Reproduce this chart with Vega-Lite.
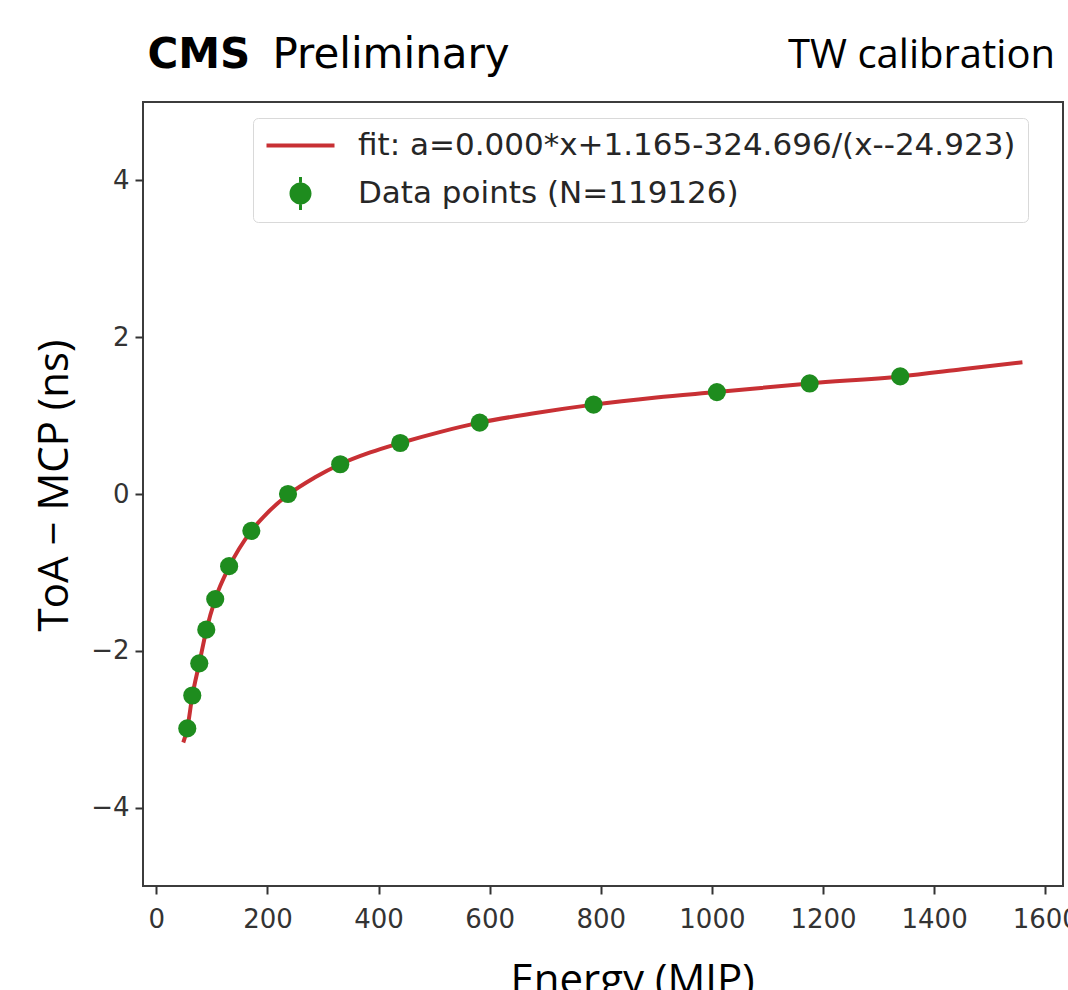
{
  "$schema": "https://vega.github.io/schema/vega-lite/v6.json",
  "width": 920,
  "height": 784,
  "autosize": {"type": "none"},
  "padding": {"left": 143, "top": 102, "right": 5, "bottom": 104},
  "background": "white",
  "title": {
    "text": "TW calibration",
    "anchor": "end",
    "frame": "group",
    "font": "Open Sans",
    "fontSize": 40,
    "fontWeight": "normal",
    "color": "black",
    "baseline": "alphabetic",
    "offset": -40,
    "dx": -8,
    "dy": 35
  },
  "datasets": {
    "curve": [
      {"energy": 48.5, "toa": -3.17, "series": "fit: a=0.000*x+1.165-324.696/(x--24.923)"},
      {"energy": 55.7, "toa": -2.99, "series": "fit: a=0.000*x+1.165-324.696/(x--24.923)"},
      {"energy": 64.7, "toa": -2.58, "series": "fit: a=0.000*x+1.165-324.696/(x--24.923)"},
      {"energy": 77.3, "toa": -2.16, "series": "fit: a=0.000*x+1.165-324.696/(x--24.923)"},
      {"energy": 89.9, "toa": -1.74, "series": "fit: a=0.000*x+1.165-324.696/(x--24.923)"},
      {"energy": 106, "toa": -1.34, "series": "fit: a=0.000*x+1.165-324.696/(x--24.923)"},
      {"energy": 131, "toa": -0.93, "series": "fit: a=0.000*x+1.165-324.696/(x--24.923)"},
      {"energy": 171, "toa": -0.47, "series": "fit: a=0.000*x+1.165-324.696/(x--24.923)"},
      {"energy": 200, "toa": -0.24, "series": "fit: a=0.000*x+1.165-324.696/(x--24.923)"},
      {"energy": 237, "toa": -0.01, "series": "fit: a=0.000*x+1.165-324.696/(x--24.923)"},
      {"energy": 285, "toa": 0.21, "series": "fit: a=0.000*x+1.165-324.696/(x--24.923)"},
      {"energy": 331, "toa": 0.38, "series": "fit: a=0.000*x+1.165-324.696/(x--24.923)"},
      {"energy": 385, "toa": 0.53, "series": "fit: a=0.000*x+1.165-324.696/(x--24.923)"},
      {"energy": 439, "toa": 0.65, "series": "fit: a=0.000*x+1.165-324.696/(x--24.923)"},
      {"energy": 510, "toa": 0.79, "series": "fit: a=0.000*x+1.165-324.696/(x--24.923)"},
      {"energy": 582, "toa": 0.91, "series": "fit: a=0.000*x+1.165-324.696/(x--24.923)"},
      {"energy": 680, "toa": 1.03, "series": "fit: a=0.000*x+1.165-324.696/(x--24.923)"},
      {"energy": 787, "toa": 1.14, "series": "fit: a=0.000*x+1.165-324.696/(x--24.923)"},
      {"energy": 900, "toa": 1.23, "series": "fit: a=0.000*x+1.165-324.696/(x--24.923)"},
      {"energy": 1009, "toa": 1.30, "series": "fit: a=0.000*x+1.165-324.696/(x--24.923)"},
      {"energy": 1176, "toa": 1.41, "series": "fit: a=0.000*x+1.165-324.696/(x--24.923)"},
      {"energy": 1339, "toa": 1.50, "series": "fit: a=0.000*x+1.165-324.696/(x--24.923)"},
      {"energy": 1450, "toa": 1.59, "series": "fit: a=0.000*x+1.165-324.696/(x--24.923)"},
      {"energy": 1559, "toa": 1.68, "series": "fit: a=0.000*x+1.165-324.696/(x--24.923)"}
    ],
    "points": [
      {"energy": 55.7, "toa": -2.99, "series": "Data points (N=119126)"},
      {"energy": 64.7, "toa": -2.57, "series": "Data points (N=119126)"},
      {"energy": 77.3, "toa": -2.16, "series": "Data points (N=119126)"},
      {"energy": 89.9, "toa": -1.73, "series": "Data points (N=119126)"},
      {"energy": 106, "toa": -1.34, "series": "Data points (N=119126)"},
      {"energy": 131, "toa": -0.92, "series": "Data points (N=119126)"},
      {"energy": 171, "toa": -0.47, "series": "Data points (N=119126)"},
      {"energy": 237, "toa": 0.0, "series": "Data points (N=119126)"},
      {"energy": 331, "toa": 0.38, "series": "Data points (N=119126)"},
      {"energy": 439, "toa": 0.65, "series": "Data points (N=119126)"},
      {"energy": 582, "toa": 0.91, "series": "Data points (N=119126)"},
      {"energy": 787, "toa": 1.14, "series": "Data points (N=119126)"},
      {"energy": 1009, "toa": 1.30, "series": "Data points (N=119126)"},
      {"energy": 1176, "toa": 1.41, "series": "Data points (N=119126)"},
      {"energy": 1339, "toa": 1.50, "series": "Data points (N=119126)"}
    ]
  },
  "layer": [
    {
      "layer": [
        {
          "data": {"name": "curve"},
          "mark": {"type": "line", "strokeWidth": 4, "interpolate": "monotone"},
          "encoding": {
            "x": {
              "field": "energy", "type": "quantitative",
              "scale": {"domain": [-24, 1632], "nice": false, "zero": false},
              "axis": {
                "values": [0, 200, 400, 600, 800, 1000, 1200, 1400, 1600],
                "format": "d",
                "title": "Energy (MIP)",
                "titleX": 489, "titleY": 107,
                "titleAlign": "center", "titleBaseline": "alphabetic",
                "labelPadding": 12
              }
            },
            "y": {
              "field": "toa", "type": "quantitative",
              "scale": {"domain": [-5, 5], "nice": false, "zero": false},
              "axis": {
                "values": [-4, -2, 0, 2, 4],
                "format": "d",
                "title": "ToA − MCP (ns)",
                "titleX": -76, "titleY": 383,
                "titleAngle": -90,
                "titleAlign": "center", "titleBaseline": "alphabetic",
                "labelPadding": 6
              }
            },
            "color": {
              "field": "series", "type": "nominal",
              "scale": {
                "domain": ["fit: a=0.000*x+1.165-324.696/(x--24.923)", "Data points (N=119126)"],
                "range": ["#c83034", "#1e8c1e"]
              },
              "legend": {
                "orient": "none",
                "legendX": 110,
                "legendY": 16,
                "direction": "vertical",
                "title": null,
                "padding": 12,
                "strokeColor": "#d9d9d9",
                "fillColor": "white",
                "cornerRadius": 5,
                "symbolSize": 1089,
                "symbolOffset": 20,
                "labelOffset": 42,
                "rowPadding": 16,
                "labelFont": "DejaVu Sans",
                "labelFontSize": 31,
                "labelColor": "#262626",
                "labelLimit": 0,
                "encode": {
                  "symbols": {
                    "update": {
                      "shape": {"signal": "datum.index === 0 ? 'stroke' : 'M-0.09,-1L0.09,-1L0.09,-0.66L-0.09,-0.66Z M-0.09,0.66L0.09,0.66L0.09,1L-0.09,1Z M-0.667,0A0.667,0.667,0,1,1,0.667,0A0.667,0.667,0,1,1,-0.667,0Z'"},
                      "size": {"signal": "datum.index === 0 ? 4624 : 1089"},
                      "fill": {"signal": "datum.index === 0 ? 'transparent' : '#1e8c1e'"},
                      "stroke": {"signal": "datum.index === 0 ? '#c83034' : 'transparent'"},
                      "strokeWidth": {"signal": "datum.index === 0 ? 4 : 0"},
                      "opacity": {"value": 1}
                    }
                  }
                }
              }
            }
          }
        },
        {
          "data": {"name": "points"},
          "mark": {"type": "point", "filled": true, "size": 330, "opacity": 1, "shape": "circle"},
          "encoding": {
            "x": {"field": "energy", "type": "quantitative", "scale": {"domain": [-24, 1632], "nice": false, "zero": false}},
            "y": {"field": "toa", "type": "quantitative", "scale": {"domain": [-5, 5], "nice": false, "zero": false}},
            "color": {"field": "series", "type": "nominal"}
          }
        }
      ]
    },
    {
      "data": {"name": "points"},
      "mark": {"type": "point", "opacity": 0},
      "encoding": {
        "x": {
          "field": "energy", "type": "quantitative",
          "scale": {"domain": [-24, 1632], "nice": false, "zero": false},
          "axis": {
            "orient": "top", "labels": false, "ticks": false, "domain": false, "grid": false,
            "title": "CMS",
            "titleX": 4, "titleY": -35,
            "titleAlign": "left", "titleBaseline": "alphabetic",
            "titleFont": "DejaVu Sans", "titleFontWeight": "bold", "titleFontSize": 42, "titleColor": "black"
          }
        },
        "y": {
          "field": "toa", "type": "quantitative",
          "scale": {"domain": [-5, 5], "nice": false, "zero": false},
          "axis": {
            "orient": "right", "labels": false, "ticks": false, "domain": false, "grid": false,
            "title": "Preliminary",
            "titleAngle": 0,
            "titleX": -791, "titleY": -35,
            "titleAlign": "left", "titleBaseline": "alphabetic",
            "titleFont": "DejaVu Sans", "titleFontWeight": "normal", "titleFontSize": 42, "titleColor": "black"
          }
        }
      }
    }
  ],
  "resolve": {"axis": {"x": "independent", "y": "independent"}},
  "config": {
    "view": {"stroke": "#3c3c3c", "strokeWidth": 2},
    "axis": {
      "grid": false,
      "domain": false,
      "labelFont": "DejaVu Sans",
      "labelFontSize": 26,
      "labelColor": "#333333",
      "tickColor": "#333333",
      "tickWidth": 2,
      "tickSize": 8,
      "titleFont": "Open Sans",
      "titleFontSize": 42,
      "titleFontWeight": "normal",
      "titleColor": "black"
    }
  }
}
